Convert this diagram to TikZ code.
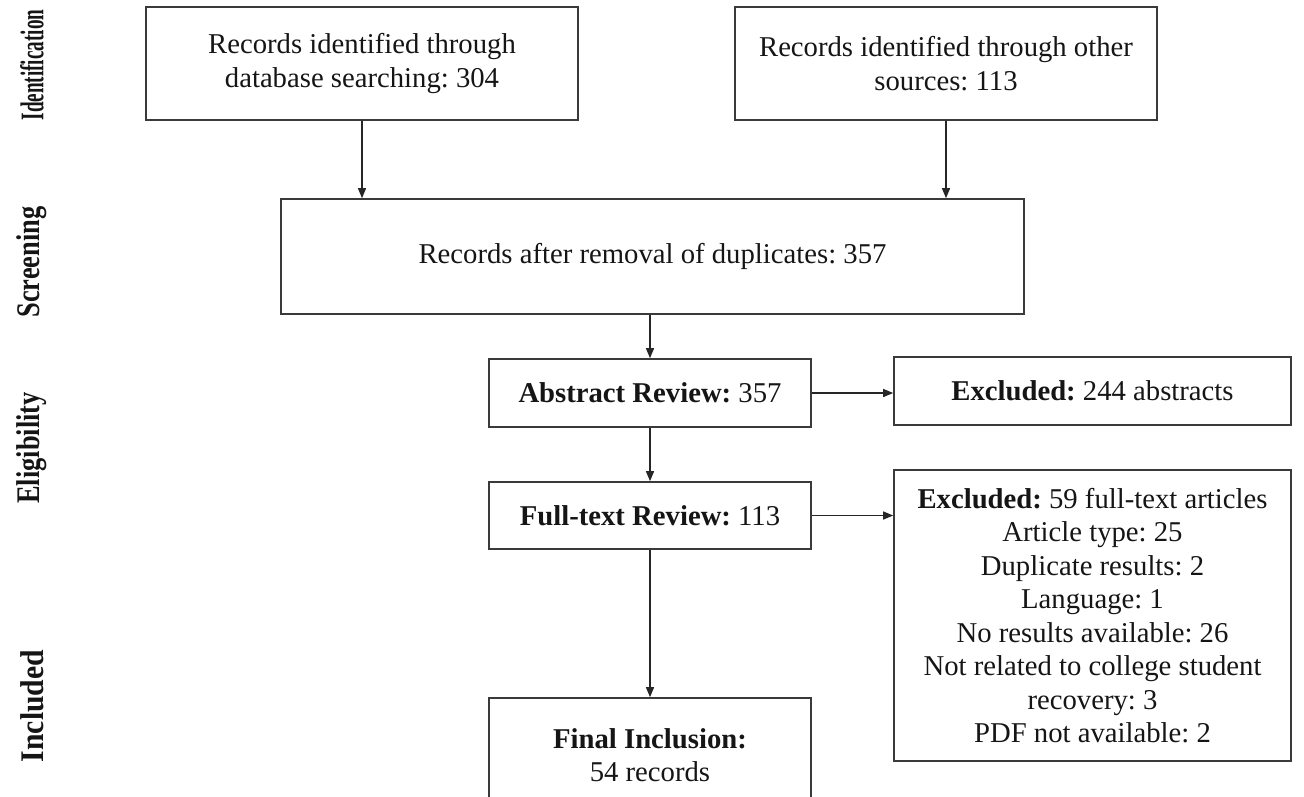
\documentclass[tikz,border=0pt]{standalone}
\usepackage{fontspec}
\setmainfont{Liberation Serif}
\frenchspacing
\usetikzlibrary{arrows.meta}
\definecolor{boxline}{HTML}{3A3A3A}
\definecolor{inkc}{HTML}{151515}
\begin{document}
\begin{tikzpicture}[x=1pt,y=-1pt,
  box/.style={draw=boxline, line width=1.6pt, inner sep=0pt, align=center,
    text=inkc, font=\fontsize{28.7}{33.5}\selectfont},
  flow/.style={draw=black!85, line width=1.3pt,
    -{Triangle[length=10pt,width=8pt]}},
  phase/.style={rotate=90, text=inkc, inner sep=0pt,
    font=\fontsize{33}{36}\selectfont\bfseries}]
\clip (0,0) rectangle (1304,796);
\useasboundingbox (0,0) rectangle (1304,796);

% phase labels down the left side
\node[phase] (lid)  at (32,65)  {\scalebox{0.58}[1]{Identification}};
\node[phase] (lsc)  at (32,262) {\scalebox{0.8}[1]{Screening}};
\node[phase] (lel)  at (32,448) {\scalebox{0.8}[1]{Eligibility}};
\node[phase] (lin)  at (32,706) {\scalebox{0.9}[1]{Included}};

% identification
\node[box, minimum width=432pt, minimum height=113pt] (db) at (362,63.5)
  {Records identified through\\database searching: 304};
\node[box, minimum width=422pt, minimum height=113pt] (other) at (946,63.5)
  {Records identified through other\\sources: 113};

% screening
\node[box, minimum width=743pt, minimum height=115pt] (dedup) at (652.5,256.5)
  {Records after removal of duplicates: 357};
\node[box, minimum width=322pt, minimum height=68pt] (abs) at (650,393)
  {\textbf{Abstract Review:} 357};
\node[box, minimum width=397pt, minimum height=68pt] (exabs) at (1092.5,391)
  {\textbf{Excluded:} 244 abstracts};

% eligibility
\node[box, minimum width=322pt, minimum height=67pt] (full) at (650,515.5)
  {\textbf{Full-text Review:} 113};
\node[box, minimum width=397pt, minimum height=291pt] (exfull) at (1092.5,615.5)
  {\textbf{Excluded:} 59 full-text articles\\
   Article type: 25\\
   Duplicate results: 2\\
   Language: 1\\
   No results available: 26\\
   Not related to college student\\
   recovery: 3\\
   PDF not available: 2};

% included
\node[box, minimum width=322pt, minimum height=114pt] (final) at (650,755)
  {\textbf{Final Inclusion:}\\54 records};

% connectors
\draw[flow] (db.south) -- (db.south |- dedup.north);
\draw[flow] (other.south) -- (other.south |- dedup.north);
\draw[flow] (abs.north |- dedup.south) -- (abs.north);
\draw[flow] (abs.east) -- (abs.east -| exabs.west);
\draw[flow] (abs.south) -- (full.north);
\draw[flow] (full.east) -- (full.east -| exfull.west);
\draw[flow] (full.south) -- (final.north);
\end{tikzpicture}
\end{document}
